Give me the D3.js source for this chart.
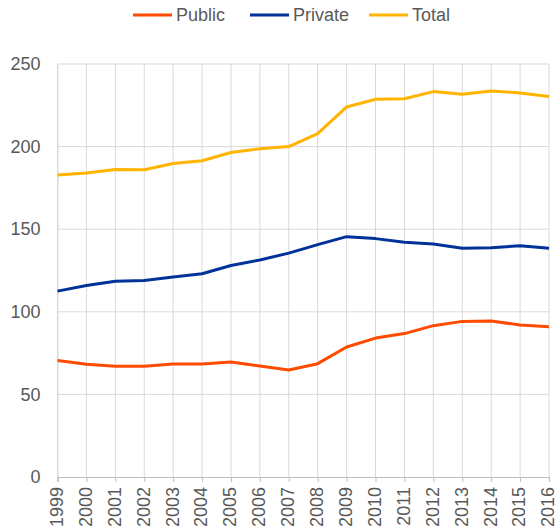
<!DOCTYPE html>
<html><head><meta charset="utf-8">
<script src="https://cdn.jsdelivr.net/npm/d3@7"></script>
<style>body{margin:0;background:#fff}svg{display:block}</style>
</head><body>
<svg id="c" width="558" height="531"></svg>
<script>
const years = ["1999","2000","2001","2002","2003","2004","2005","2006","2007","2008","2009","2010","2011","2012","2013","2014","2015","2016"];
const publicVals  = [70.5,68.2,67.0,67.0,68.4,68.4,69.6,67.2,64.8,68.6,78.7,84.1,86.8,91.6,94.2,94.4,92.0,91.0];
const privateVals = [112.5,115.9,118.5,119.0,121.0,123.0,128.0,131.4,135.5,140.7,145.5,144.3,142.1,141.1,138.5,138.8,140.0,138.5];
const totalVals   = [182.8,184.0,186.2,186.0,189.8,191.4,196.4,198.7,200.0,207.9,224.0,228.7,229.0,233.3,231.7,233.7,232.5,230.3];
const yTicks = [0,50,100,150,200,250];
const seriesNames = ["Public","Private","Total"];
const seriesColors = ["#FF4B00","#003299","#FFB400"];

const series = [publicVals, privateVals, totalVals].map((v,i)=>({name:seriesNames[i], color:seriesColors[i], values:v}));

const svg = d3.select("#c");
const m = {l:57.5, r:9, t:64, b:54};
const W = 558, H = 531;
const x = d3.scalePoint().domain(years).range([m.l, W - m.r]);
const y = d3.scaleLinear().domain([0,250]).range([H - m.b, m.t]);
const font = "'Liberation Sans', Arial, sans-serif";
const grid = "#d9d9d9";
const textCol = "#595959";
const fs = 18;

// horizontal gridlines
svg.append("g").selectAll("line").data(yTicks.slice(1)).join("line")
  .attr("x1", m.l).attr("x2", W - m.r)
  .attr("y1", d=>y(d)).attr("y2", d=>y(d))
  .attr("stroke", grid).attr("stroke-width", 1);
// vertical gridlines
svg.append("g").selectAll("line").data(years).join("line")
  .attr("x1", d=>x(d)).attr("x2", d=>x(d))
  .attr("y1", m.t).attr("y2", y(0))
  .attr("stroke", grid).attr("stroke-width", 1);

// y axis
const ya = svg.append("g").attr("transform", `translate(${m.l},0)`)
  .call(d3.axisLeft(y).tickValues(yTicks).tickSize(0).tickPadding(17));
ya.select(".domain").attr("stroke", grid);
ya.selectAll("text").attr("font-family", font).attr("font-size", fs).attr("fill", textCol);

// x axis
const xa = svg.append("g").attr("transform", `translate(0,${y(0)})`)
  .call(d3.axisBottom(x).tickSize(5).tickPadding(4));
xa.select(".domain").attr("stroke", "#bfbfbf").attr("stroke-width", 1.2);
xa.selectAll(".tick line").attr("stroke", "#bfbfbf");
xa.selectAll("text").attr("font-family", font).attr("font-size", fs).attr("fill", textCol)
  .attr("transform", "rotate(-90)").attr("text-anchor", "end")
  .attr("x", -10).attr("y", 0).attr("dy", "0.27em");

// lines
const line = d3.line().x((d,i)=>x(years[i])).y(d=>y(d));
svg.append("g").selectAll("path").data(series).join("path")
  .attr("d", d=>line(d.values))
  .attr("fill", "none").attr("stroke", d=>d.color).attr("stroke-width", 3)
  .attr("stroke-linejoin", "round").attr("stroke-linecap", "butt");

// legend
const legX = [133, 250, 369];
const lg = svg.append("g").selectAll("g").data(series).join("g")
  .attr("transform", (d,i)=>`translate(${legX[i]},15)`);
lg.append("line").attr("x1",0).attr("x2",39).attr("y1",0).attr("y2",0)
  .attr("stroke", d=>d.color).attr("stroke-width", 3);
lg.append("text").attr("x", 43).attr("y", 0).attr("dy","0.35em")
  .attr("font-family", font).attr("font-size", fs).attr("fill", textCol)
  .text(d=>d.name);
</script>
</body></html>
